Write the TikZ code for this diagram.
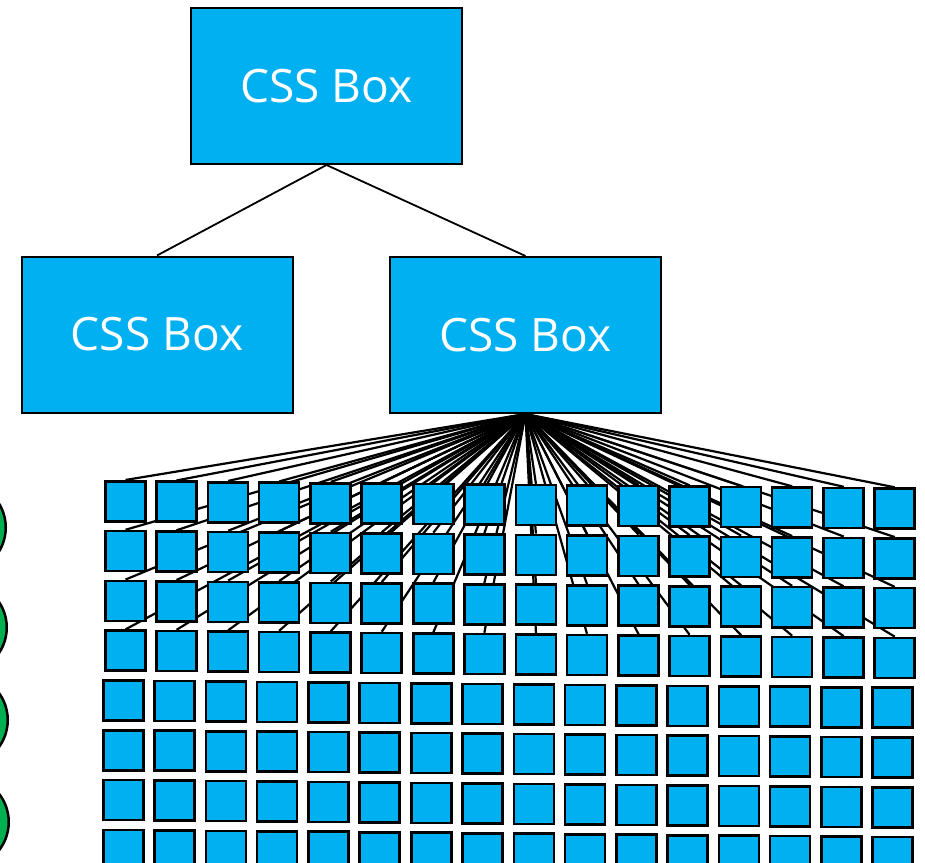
\documentclass[tikz,border=0pt]{standalone}
\usepackage{fontspec}
\setmainfont{Open Sans}
\definecolor{boxcyan}{HTML}{00B0F0}
\definecolor{dotgreen}{HTML}{00B050}
\pgfdeclarelayer{wires}
\pgfsetlayers{wires,main}
\begin{document}
\begin{tikzpicture}[x=1pt,y=-1pt,
  cssbox/.style={draw=black, line width=2pt, fill=boxcyan, minimum width=271pt,
    minimum height=156pt, inner sep=0pt, text=white, font=\fontsize{46}{52}\selectfont},
  cell/.style={draw=black, line width=2.6pt, fill=boxcyan, minimum size=40pt, inner sep=0pt},
  greendot/.style={circle, draw=black, line width=2.5pt, fill=dotgreen, minimum size=92pt, inner sep=0pt},
  treeline/.style={line width=1.8pt},
  fanline/.style={line width=2.2pt}]
\useasboundingbox (0,0) rectangle (925,862);
\clip (0,0) rectangle (925,862);

% tree of boxes
\node[cssbox] (root) at (326.5,86) {CSS Box};
\node[cssbox] (kidA) at (157,334.5) {CSS Box};
\node[cssbox] (kidB) at (525.5,335) {CSS Box};
\draw[treeline] (root.south) -- (kidA.north);
\draw[treeline] (root.south) -- (kidB.north);

% grid of small boxes
\foreach \r in {0,...,7}{
  \foreach \c in {0,...,15}{
    \pgfmathsetmacro{\xl}{104.3 + 51*mod(\c,2) + 102.6*floor(\c/2) - 2*(\r>3)}
    \pgfmathsetmacro{\yt}{480 + 49.8*\r + 0.0095*(\xl-104)}
    \node[cell] (s\r-\c) at (\xl+21.25, \yt+21.25) {};
  }
}

% fan of connectors behind the grid
\begin{pgfonlayer}{wires}
\foreach \r in {0,...,3}{
  \foreach \c in {0,...,15}{
    \draw[fanline] (kidB.south) -- (s\r-\c.north);
  }
}
\end{pgfonlayer}

% green circles at the left edge
\node[greendot] (g1) at (-40.25,527.5) {};
\node[greendot] (g2) at (-39.25,627.5) {};
\node[greendot] (g3) at (-38.25,720) {};
\node[greendot] (g4) at (-37.25,822) {};
\end{tikzpicture}
\end{document}
